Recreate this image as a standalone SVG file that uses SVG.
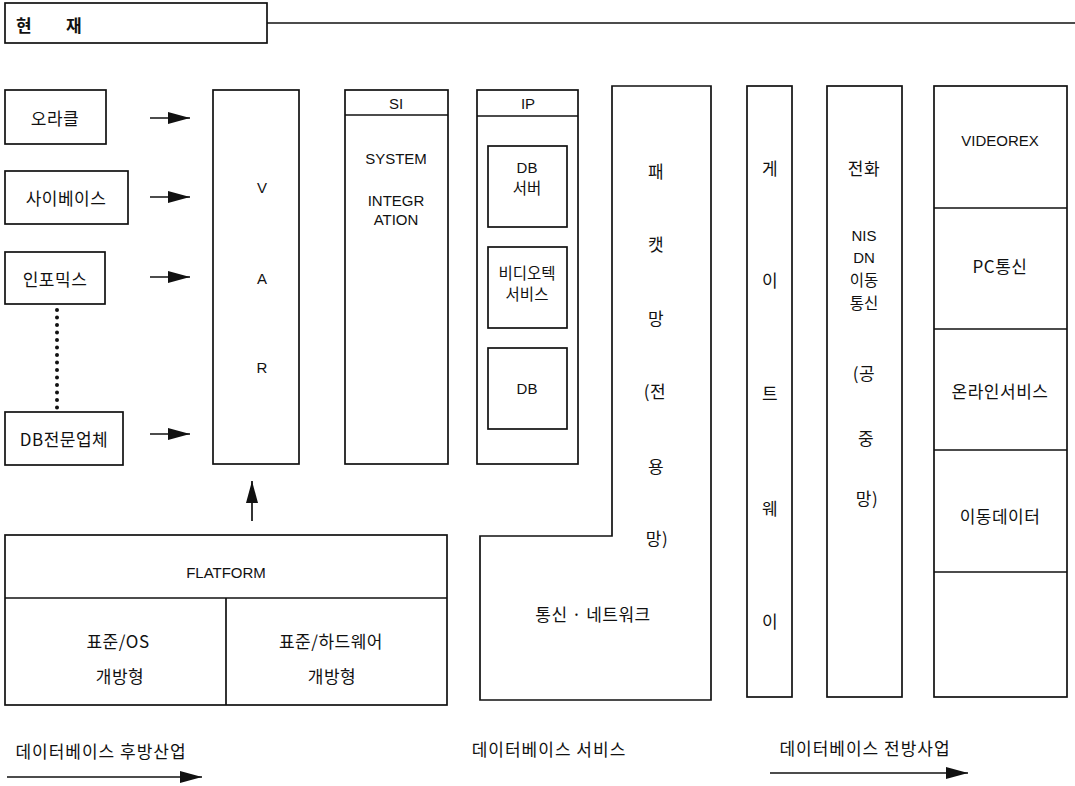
<svg xmlns="http://www.w3.org/2000/svg" width="1075" height="786" viewBox="0 0 1075 786">
<defs>
<style>
.b{fill:none;stroke:#111;stroke-width:1.7}
.l{stroke:#111;stroke-width:1.7;fill:none}
text{font-family:"Liberation Sans","Noto Sans CJK KR",sans-serif;fill:#111;text-anchor:middle;dominant-baseline:central}
.k{font-family:"Noto Sans CJK KR","Liberation Sans",sans-serif;font-size:17px;letter-spacing:0.5px}
.s{font-size:15.5px;letter-spacing:0}
.e{font-size:15px}
</style>
<marker id="ah" viewBox="0 0 10 10" refX="10" refY="5" markerWidth="22" markerHeight="12" markerUnits="userSpaceOnUse" orient="auto" preserveAspectRatio="none"><path d="M0,0 L10,5 L0,10 Z" fill="#111"/></marker>
</defs>
<rect width="1075" height="786" fill="#fff"/>

<g id="header">
<rect class="b" x="5" y="3" width="262" height="40"/>
<line class="l" x1="267" y1="23" x2="1075" y2="23"/>
<text class="k" x="24" y="24" style="font-weight:700">현</text>
<text class="k" x="74" y="24" style="font-weight:700">재</text>
</g>

<g id="oracle"><rect class="b" x="5" y="90" width="101" height="54"/><text class="k" x="55" y="117">오라클</text></g>
<g id="sybase"><rect class="b" x="5" y="171" width="123" height="53"/><text class="k" x="66" y="197">사이베이스</text></g>
<g id="informix"><rect class="b" x="5" y="252" width="100" height="52"/><text class="k" x="55" y="278">인포믹스</text></g>
<g id="dbvendor"><rect class="b" x="5" y="412" width="118" height="53"/><text class="k" x="64" y="438">DB전문업체</text></g>

<g id="var">
<rect class="b" x="213" y="90" width="86" height="374"/>
<text class="e" x="262" y="187">V</text>
<text class="e" x="262" y="278">A</text>
<text class="e" x="262" y="367">R</text>
</g>

<g id="si">
<rect class="b" x="345" y="90" width="103" height="374"/>
<line class="l" x1="345" y1="115" x2="448" y2="115"/>
<text class="e" x="396" y="103">SI</text>
<text class="e" x="396" y="158">SYSTEM</text>
<text class="e" x="396" y="200">INTEGR</text>
<text class="e" x="396" y="219">ATION</text>
</g>

<g id="ip">
<rect class="b" x="477" y="90" width="101" height="374"/>
<line class="l" x1="477" y1="116" x2="578" y2="116"/>
<text class="e" x="528" y="103">IP</text>
<rect class="b" x="488" y="146" width="79" height="81"/>
<text class="e" x="527" y="167">DB</text>
<text class="k s" x="527" y="187">서버</text>
<rect class="b" x="488" y="247" width="79" height="81"/>
<text class="k s" x="527" y="272">비디오텍</text>
<text class="k s" x="527" y="293">서비스</text>
<rect class="b" x="488" y="348" width="79" height="81"/>
<text class="e" x="527" y="388">DB</text>
</g>

<g id="packet">
<path class="b" d="M612,86 H711 V700 H480 V536 H612 Z"/>
<text class="k" x="656" y="170">패</text>
<text class="k" x="656" y="243">캣</text>
<text class="k" x="656" y="317">망</text>
<text class="k" x="655" y="390">(전</text>
<text class="k" x="656" y="465">용</text>
<text class="k" x="657" y="537">망)</text>
<text class="k" x="593" y="613">통신 · 네트워크</text>
</g>

<g id="gateway">
<rect class="b" x="747" y="86" width="45" height="611"/>
<text class="k" x="770" y="167">게</text>
<text class="k" x="770" y="279">이</text>
<text class="k" x="770" y="392">트</text>
<text class="k" x="770" y="507">웨</text>
<text class="k" x="770" y="620">이</text>
</g>

<g id="telephone">
<rect class="b" x="827" y="86" width="75" height="611"/>
<text class="k" x="864" y="167">전화</text>
<text class="e" x="864" y="235">NIS</text>
<text class="e" x="864" y="257">DN</text>
<text class="k s" x="864" y="279">이동</text>
<text class="k s" x="864" y="302">통신</text>
<text class="k" x="864" y="372">(공</text>
<text class="k" x="866" y="437">중</text>
<text class="k" x="867" y="497">망)</text>
</g>

<g id="services">
<rect class="b" x="934" y="86" width="133" height="611"/>
<line class="l" x1="934" y1="208" x2="1067" y2="208"/>
<line class="l" x1="934" y1="329" x2="1067" y2="329"/>
<line class="l" x1="934" y1="450" x2="1067" y2="450"/>
<line class="l" x1="934" y1="572" x2="1067" y2="572"/>
<text class="e" x="1000" y="140">VIDEOREX</text>
<text class="k" x="1000" y="265">PC통신</text>
<text class="k" x="1000" y="390">온라인서비스</text>
<text class="k" x="1000" y="515">이동데이터</text>
</g>

<g id="platform">
<rect class="b" x="5" y="535" width="442" height="170"/>
<line class="l" x1="5" y1="598" x2="447" y2="598"/>
<line class="l" x1="226" y1="598" x2="226" y2="705"/>
<text class="e" x="226" y="572">FLATFORM</text>
<text class="k" x="118" y="640">표준/OS</text>
<text class="k" x="120" y="675">개방형</text>
<text class="k" x="331" y="640">표준/하드웨어</text>
<text class="k" x="332" y="675">개방형</text>
</g>

<g id="labels">
<text class="k" x="101" y="750" style="letter-spacing:1px">데이터베이스 후방산업</text>
<text class="k" x="549" y="748" style="letter-spacing:1px">데이터베이스 서비스</text>
<text class="k" x="865" y="747" style="letter-spacing:1px">데이터베이스 전방사업</text>
</g>

<g id="connectors">
<line class="l" x1="150" y1="118" x2="190" y2="118" marker-end="url(#ah)"/>
<line class="l" x1="150" y1="197" x2="190" y2="197" marker-end="url(#ah)"/>
<line class="l" x1="150" y1="277" x2="190" y2="277" marker-end="url(#ah)"/>
<line class="l" x1="150" y1="434" x2="190" y2="434" marker-end="url(#ah)"/>
<line class="l" x1="252" y1="521" x2="252" y2="481" marker-end="url(#ah)"/>
<line x1="57" y1="310" x2="57" y2="408" stroke="#111" stroke-width="4" stroke-linecap="round" stroke-dasharray="0 7.5"/>
<line class="l" x1="7" y1="777" x2="202" y2="777" marker-end="url(#ah)"/>
<line class="l" x1="770" y1="773" x2="968" y2="773" marker-end="url(#ah)"/>
</g>
</svg>
